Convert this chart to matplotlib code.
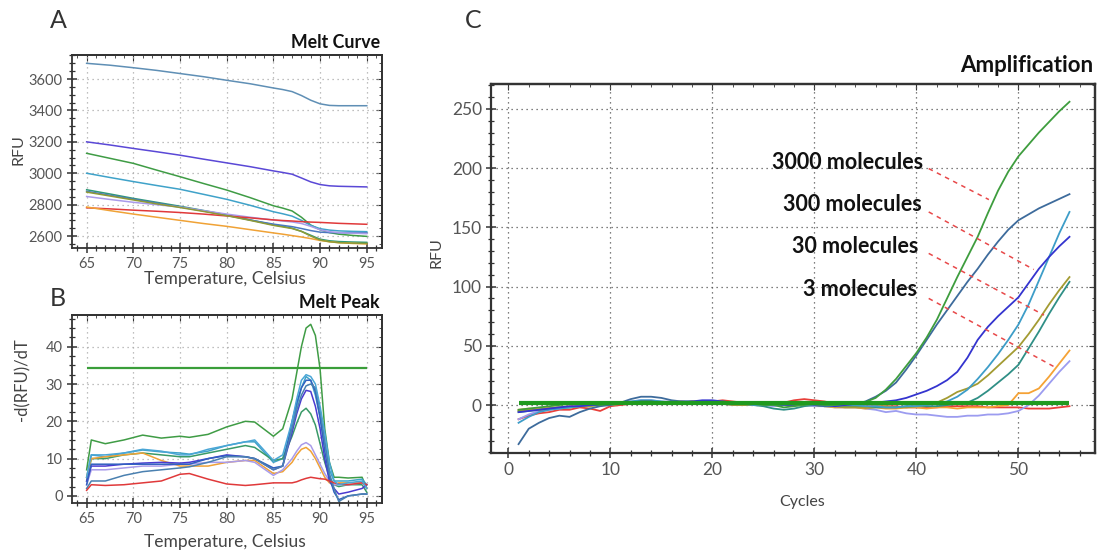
import matplotlib
matplotlib.use("Agg")
import matplotlib.pyplot as plt
from matplotlib.ticker import MultipleLocator

plt.rcParams['font.family'] = ['Lato', 'DejaVu Sans']

# ---------------- Panel A: melt curve data ----------------
temps_a = [65, 67.5, 70, 72.5, 75, 77.5, 80, 82.5, 85, 86, 87, 88, 89, 90, 91, 92, 93.5, 95]
melt_a1 = [3700, 3688, 3672, 3655, 3635, 3615, 3592, 3570, 3543, 3533, 3520, 3495, 3465, 3442, 3432, 3430, 3430, 3430]
melt_a2 = [3200, 3180, 3158, 3137, 3115, 3090, 3066, 3042, 3015, 3005, 2994, 2970, 2945, 2928, 2920, 2917, 2915, 2913]
melt_a3 = [3127, 3095, 3063, 3020, 2978, 2935, 2893, 2845, 2793, 2778, 2760, 2720, 2670, 2640, 2622, 2612, 2604, 2598]
melt_a4 = [3000, 2973, 2947, 2922, 2898, 2866, 2834, 2796, 2755, 2742, 2727, 2700, 2668, 2647, 2638, 2633, 2630, 2628]
melt_a5 = [2895, 2868, 2840, 2815, 2790, 2763, 2735, 2703, 2672, 2662, 2650, 2630, 2605, 2580, 2570, 2565, 2562, 2560]
melt_a6 = [2885, 2860, 2835, 2810, 2785, 2760, 2732, 2702, 2676, 2668, 2660, 2648, 2635, 2625, 2622, 2621, 2620, 2620]
melt_a7 = [2852, 2833, 2815, 2800, 2785, 2762, 2740, 2720, 2702, 2696, 2690, 2680, 2662, 2640, 2628, 2622, 2618, 2615]
melt_a8 = [2780, 2773, 2765, 2758, 2750, 2740, 2728, 2716, 2703, 2699, 2696, 2692, 2689, 2687, 2684, 2681, 2678, 2675]
melt_a9 = [2785, 2762, 2740, 2720, 2700, 2680, 2662, 2641, 2620, 2612, 2603, 2594, 2584, 2572, 2564, 2558, 2553, 2550]
melt_a10 = [2880, 2855, 2830, 2805, 2782, 2757, 2730, 2700, 2668, 2658, 2648, 2630, 2600, 2575, 2564, 2558, 2555, 2553]
melt_a_series = [melt_a1, melt_a2, melt_a3, melt_a4, melt_a5, melt_a6, melt_a7, melt_a8, melt_a9, melt_a10]
melt_a_colors = ['#5f8fb5', '#5a48d6', '#3f9c45', '#3fa2c9', '#2f9a78', '#4a78c0',
                 '#a99bea', '#e0393a', '#f0a236', '#8f9a35']

# ---------------- Panel B: melt peak data ----------------
temps_b = [65, 65.5, 67, 69, 71, 73, 75, 76, 78, 80, 82, 83, 85,
           86, 87, 87.5, 88, 88.5, 89, 89.5, 90, 90.5, 91, 91.5, 92, 93, 94.5, 95]
peak_b1 = [7, 15, 14, 15, 16.3, 15.5, 16, 15.7, 16.5, 18.5, 20, 19.8, 16,
           18, 26, 33, 40, 45, 46, 43, 34, 18, 9, 5, 5, 4.8, 5, 2]
peak_b2 = [5, 11, 10.5, 11.5, 12.3, 11.8, 11.5, 11.2, 12, 13.5, 14.5, 14.5, 9,
           10, 18, 24, 29, 32, 31, 27, 21, 14, 7, 4, 4, 4, 4.5, 3]
peak_b3 = [4, 10, 10, 11, 11.5, 11, 10.5, 10.5, 11.5, 12.5, 13.5, 13, 9.5,
           10, 16, 19.5, 22.5, 23.5, 22, 19, 14, 9, 5, 3, 2.5, 3, 3, 1]
peak_b4 = [5, 10, 10.5, 11, 11.5, 9.5, 8, 8, 8, 9, 9.5, 9.5, 6,
           6.5, 9, 11, 12.5, 13, 12, 10, 7.5, 5, 3.5, 3, 3.5, 3.5, 3.5, 2]
peak_b5 = [3, 7, 7, 7.5, 8, 8, 8.5, 8.5, 9, 9, 9.5, 9, 5.5,
           7, 10, 12, 13.7, 14.3, 13.5, 11, 8.5, 6, 4, 3, 3, 3, 3.5, 2]
peak_b6 = [4, 8, 8, 8.5, 8.8, 9, 8.8, 9, 10, 11, 10.5, 10, 7,
           8, 17, 22, 26, 28.3, 28, 24, 18, 10, 4, 2, 0.5, 1, 2, 3]
peak_b7 = [3, 8.5, 8.5, 8.5, 8.5, 8.5, 8.5, 8.5, 10, 10.8, 10.5, 10, 7.5,
           8, 20, 25, 29, 31, 31, 28, 21, 12, 5, 1, -1, 0, 0.5, 0.5]
peak_b8 = [2, 4, 4, 5.5, 6.5, 7, 7.5, 7.8, 9, 10.5, 10.5, 10, 7,
           8, 18, 23, 27, 29.5, 30, 29, 23, 15, 6, 2, -1.5, 0, 0.5, 0.5]
peak_b9 = [1.5, 3, 2.8, 3, 3.5, 4, 5.8, 6, 4.5, 3.2, 2.8, 3, 3.5,
           3.5, 3.5, 3.8, 4.3, 4.7, 5, 4.8, 4.6, 4.5, 4, 3.5, 3.2, 3, 3.5, 3]
peak_b10 = [5, 11, 11, 11.5, 12.5, 12, 11, 11, 12.5, 13.5, 14.5, 15, 9.5,
            11, 20, 26, 31, 32.5, 32, 30, 24, 17, 9, 4, 3, 3.5, 4, 2]
peak_b_series = [peak_b1, peak_b2, peak_b3, peak_b4, peak_b5, peak_b6, peak_b7, peak_b8, peak_b9, peak_b10]
peak_b_colors = ['#3f9c45', '#3fa2c9', '#3a9a68', '#f0a236', '#a99bea', '#4a3ad0',
                 '#3060c0', '#4a80b0', '#e0393a', '#4aa6d6']
peak_threshold = 34.2

# ---------------- Panel C: amplification data ----------------
cycles = list(range(1, 56))
amp_green = [-4, -3, -2, -1, 0, 1, 1, 1, 0, 1, 2, 2, 3, 3, 2, 2, 1, 2, 2, 1, 1, 2, 1, 1, 0, 0, -2, -1, 0, 1, 0, 0, 1,
             1, 2.5, 6, 13, 22, 33, 44, 57, 72, 90, 108, 125, 142, 162, 181, 197, 210, 220, 230, 239, 248, 256]
amp_steel = [-33, -20, -15, -11, -9, -10, -6, -3, -1, 0, 2, 5, 7, 7, 6, 4, 3, 3, 2, 2, 3, 2, 1, 1, 1, 0, 0, 1, 1, 0, -1, 0, 1,
             1, 3, 7, 12, 19, 30, 42, 55, 68, 80, 92, 104, 115, 127, 138, 148, 156, 161, 166, 170, 174, 178]
amp_blue = [-6, -5, -4, -3, -2, -1, -1, 0, 0, 1, 1, 2, 3, 3, 2, 2, 3, 3, 4, 4, 3, 2, 2, 1, 1, 0, 0, 0, 1, 1, 0, -1, 0,
            1, 1, 2, 3, 4, 6, 9, 12, 16, 21, 28, 40, 55, 66, 75, 83, 91, 103, 115, 125, 134, 142]
amp_cyan = [-15, -10, -6, -4, -3, -2, -1, 0, 0, 1, 2, 3, 4, 4, 3, 2, 2, 1, 1, 2, 2, 1, 1, 0, 0, 0, 1, 1, 0, 0, -1, -1, 0,
            0, -1, -1, -2, -2, -1, -1, 0, 1, 3, 7, 13, 22, 32, 43, 55, 68, 85, 105, 125, 145, 163]
amp_olive = [-5, -4, -4, -3, -2, -2, -1, -1, 0, 0, 1, 1, 2, 2, 2, 1, 2, 3, 2, 1, 1, 0, 0, 0, 0, 0, 1, 1, 0, 0, -1, -1, -2,
             -2, -2, -1, -1, -2, -2, -1, 0, 2, 6, 11, 14, 18, 25, 33, 41, 49, 60, 72, 85, 97, 108]
amp_teal = [-6, -5, -4, -3, -2, -2, -1, 0, 0, 0, 1, 1, 1, 2, 2, 1, 1, 1, 2, 2, 1, 1, 0, 0, -1, -3, -4, -3, -1, 0, 0, -1, -1,
            -1, -2, -2, -2, -2, -1, -1, -1, -1, 0, 1, 2, 6, 12, 19, 26, 34, 48, 62, 77, 91, 104]
amp_orange = [-4, -3, -3, -2, -2, -1, -1, 0, 0, 0, 1, 1, 2, 2, 2, 3, 3, 2, 2, 3, 2, 2, 1, 1, 0, 0, 0, 0, 1, 0, -1, -2, -2,
              -2, -3, -2, -3, -3, -2, -2, -3, -2, -2, -3, -2, -2, -2, -1, 0, 10, 10, 14, 24, 35, 46]
amp_lavender = [-12, -8, -5, -4, -3, -2, -1, 0, 0, 1, 2, 3, 4, 4, 3, 3, 2, 2, 1, 1, 1, 0, 0, 0, 0, -1, 0, 0, 0, -1, -1, -2, -2,
                -2, -3, -4, -6, -5, -7, -8, -8, -9, -10, -10, -9, -9, -8, -8, -7, -5, 0, 8, 18, 28, 37]
amp_red = [-12, -9, -7, -6, -4, -4, -2, -3, -5, -1, 0, 1, 2, 2, 1, 2, 2, 3, 3, 3, 4, 3, 2, 1, 1, 1, 2, 4, 5, 4, 3, 1, 0,
           0, -1, -1, -1, -1, -2, -2, -2, -2, -1, -1, -1, -1, -2, -2, -2, -2, -3, -3, -3, -2, -1]
amp_series = [amp_red, amp_lavender, amp_orange, amp_teal, amp_olive, amp_cyan, amp_blue, amp_steel, amp_green]
amp_colors = ['#e8403a', '#9c9cf0', '#f5a235', '#2f8f86', '#a39b32', '#3d9dc8', '#3434cf', '#3d6b9c', '#3e9d3e']
amp_threshold = 1.5

ann_labels = ['3000 molecules', '300 molecules', '30 molecules', '3 molecules']
ann_text_pos = [(40.7, 205), (40.5, 169.5), (40.2, 133.5), (40.1, 97.5)]
ann_line_start = [(41.2, 199.6), (41.2, 163), (41.2, 128), (41.2, 90)]
ann_line_end = [(47.1, 173.4), (51.5, 114.4), (52.5, 75.9), (53.5, 32.3)]

# ---------------- figure ----------------
W, H = 1100, 554
fig = plt.figure(figsize=(W / 100, H / 100), dpi=100)


def fx(px):
    return px / W


def fy(py):
    return 1 - py / H


def style_axes(ax, grid_color, spine_lw, tick_size, label_color):
    for s in ax.spines.values():
        s.set_linewidth(spine_lw)
        s.set_color('#333333')
    ax.grid(True, which='major', color=grid_color, linestyle=(0, (1, 3)), linewidth=0.9)
    ax.tick_params(which='major', direction='inout', length=7, width=1.1, color='#333333',
                   labelsize=tick_size, labelcolor=label_color, pad=3)
    ax.tick_params(which='minor', direction='inout', length=4, width=0.9, color='#333333')
    sx = ax.secondary_xaxis('top')
    sx.tick_params(which='both', direction='in', labeltop=False, color='#333333')
    sx.tick_params(which='major', length=4)
    sx.tick_params(which='minor', length=2.5)
    sx.xaxis.set_major_locator(ax.xaxis.get_major_locator())
    sx.xaxis.set_minor_locator(ax.xaxis.get_minor_locator())
    sx.set_xticklabels([])
    sy = ax.secondary_yaxis('right')
    sy.tick_params(which='both', direction='in', labelright=False, color='#333333')
    sy.tick_params(which='major', length=4)
    sy.tick_params(which='minor', length=2.5)
    sy.yaxis.set_major_locator(ax.yaxis.get_major_locator())
    sy.yaxis.set_minor_locator(ax.yaxis.get_minor_locator())
    sy.set_yticklabels([])
    for s in list(sx.spines.values()) + list(sy.spines.values()):
        s.set_linewidth(spine_lw)
        s.set_color('#333333')


# Panel A
axA = fig.add_axes([fx(71.7), fy(248), fx(381.7) - fx(71.7), fy(55) - fy(248)])
for ser, col in zip(melt_a_series, melt_a_colors):
    axA.plot(temps_a, ser, color=col, lw=1.1)
axA.set_xlim(63.4, 96.6)
axA.set_ylim(2524, 3753)
axA.xaxis.set_major_locator(MultipleLocator(5))
axA.xaxis.set_minor_locator(MultipleLocator(1))
axA.yaxis.set_major_locator(MultipleLocator(200))
axA.yaxis.set_minor_locator(MultipleLocator(50))
style_axes(axA, '#aaaaaa', 1.3, 10.5, '#555555')

# Panel B
axB = fig.add_axes([fx(71.7), fy(503), fx(381.7) - fx(71.7), fy(315) - fy(503)])
for ser, col in zip(peak_b_series, peak_b_colors):
    axB.plot(temps_b, ser, color=col, lw=1.1)
axB.hlines(peak_threshold, temps_b[0], temps_b[-1], color='#3a9e3a', lw=1.6)
axB.set_xlim(63.4, 96.6)
axB.set_ylim(-1.9, 48.5)
axB.xaxis.set_major_locator(MultipleLocator(5))
axB.xaxis.set_minor_locator(MultipleLocator(1))
axB.yaxis.set_major_locator(MultipleLocator(10))
axB.yaxis.set_minor_locator(MultipleLocator(2.5))
style_axes(axB, '#aaaaaa', 1.3, 10.5, '#555555')

# Panel C
axC = fig.add_axes([fx(491), fy(453), fx(1095) - fx(491), fy(84) - fy(453)])
for ser, col in zip(amp_series, amp_colors):
    axC.plot(cycles, ser, color=col, lw=1.3)
axC.hlines(amp_threshold, cycles[0], cycles[-1], color='#1f9a1f', lw=3)
for lab, tp, ls, le in zip(ann_labels, ann_text_pos, ann_line_start, ann_line_end):
    axC.text(tp[0], tp[1], lab, ha='right', va='center', fontsize=15.5, fontweight='bold', color='#111111')
    axC.plot([ls[0], le[0]], [ls[1], le[1]], color='#e8494a', lw=1.1, linestyle=(0, (3, 3)))
axC.set_xlim(-1.7, 57.5)
axC.set_ylim(-40.5, 271)
axC.xaxis.set_major_locator(MultipleLocator(10))
axC.xaxis.set_minor_locator(MultipleLocator(2))
axC.yaxis.set_major_locator(MultipleLocator(50))
axC.yaxis.set_minor_locator(MultipleLocator(10))
style_axes(axC, '#555555', 1.6, 12.5, '#555555')

# Text labels
fig.text(fx(58), fy(20), 'A', fontsize=18, color='#333333', ha='center', va='center')
fig.text(fx(58), fy(298), 'B', fontsize=18, color='#333333', ha='center', va='center')
fig.text(fx(473), fy(20), 'C', fontsize=18, color='#333333', ha='center', va='center')
fig.text(fx(380), fy(43), 'Melt Curve', fontsize=12.8, fontweight='bold', ha='right', va='center', color='#111111')
fig.text(fx(380), fy(303), 'Melt Peak', fontsize=12.8, fontweight='bold', ha='right', va='center', color='#111111')
fig.text(fx(1093), fy(65), 'Amplification', fontsize=16, fontweight='bold', ha='right', va='center', color='#111111')

fig.text(fx(18.5), fy(150), 'RFU', fontsize=11.5, rotation=90, ha='center', va='center', color='#444444')
fig.text(fx(225), fy(279), 'Temperature, Celsius', fontsize=12.5, ha='center', va='center', color='#444444')
fig.text(fx(22), fy(380), '-d(RFU)/dT', fontsize=12, rotation=90, ha='center', va='center', color='#444444')
fig.text(fx(225), fy(541.5), 'Temperature, Celsius', fontsize=12.5, ha='center', va='center', color='#444444')
fig.text(fx(437), fy(253), 'RFU', fontsize=11.5, rotation=90, ha='center', va='center', color='#444444')
fig.text(fx(802), fy(502), 'Cycles', fontsize=11.5, ha='center', va='center', color='#444444')

fig.savefig('out.png', dpi=100)
